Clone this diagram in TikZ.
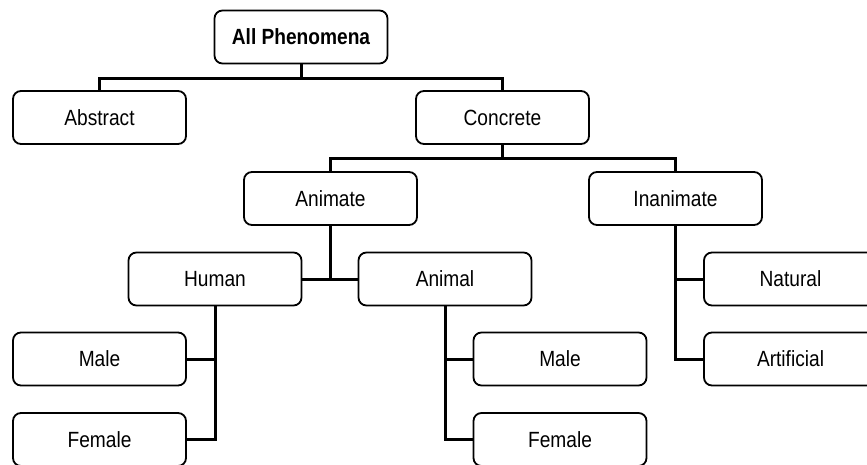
\documentclass[tikz,border=0pt]{standalone}
\usepackage{fontspec}
\setmainfont{Liberation Sans}[FakeStretch=0.87]
\begin{document}
\begin{tikzpicture}[x=1pt,y=-1pt,
  box/.style={draw=black, line width=1.8pt, rounded corners=8pt, fill=white,
    minimum width=173pt, minimum height=53pt, inner sep=0pt,
    font=\fontsize{22}{26}\selectfont},
  link/.style={draw=black, line width=3pt}]
\clip (0,0) rectangle (867,464);
\fill[white] (0,0) rectangle (867,464);
% nodes
\node[box, font=\fontsize{22}{26}\selectfont\bfseries] (all) at (301,37) {All Phenomena};
\node[box] (abstract) at (99.5,117.5) {Abstract};
\node[box] (concrete) at (502.5,117.5) {Concrete};
\node[box] (animate) at (330.5,198.5) {Animate};
\node[box] (inanimate) at (675.5,198.5) {Inanimate};
\node[box] (human) at (215,279) {Human};
\node[box] (animal) at (445,279) {Animal};
\node[box] (natural) at (790.5,279) {Natural};
\node[box] (artificial) at (790.5,359) {Artificial};
\node[box] (male1) at (99.5,359) {Male};
\node[box] (female1) at (99.5,439.5) {Female};
\node[box] (male2) at (560,359) {Male};
\node[box] (female2) at (560,439.5) {Female};
% junctions
\coordinate (j1) at (301,78);
\coordinate (j2) at (502.5,158);
% connectors
\path[link] (all.south) -- (j1);
\path[link] (abstract.north) |- (j1) -| (concrete.north);
\path[link] (concrete.south) -- (j2);
\path[link] (animate.north) |- (j2) -| (inanimate.north);
\path[link] (animate.south) -- (animate.south |- human.east);
\path[link] (human.east) -- (animal.west);
\path[link] (inanimate.south) |- (artificial.west);
\path[link] (inanimate.south |- natural.west) -- (natural.west);
\path[link] (human.south) |- (female1.east);
\path[link] (human.south |- male1.east) -- (male1.east);
\path[link] (animal.south) |- (female2.west);
\path[link] (animal.south |- male2.west) -- (male2.west);
\end{tikzpicture}
\end{document}
